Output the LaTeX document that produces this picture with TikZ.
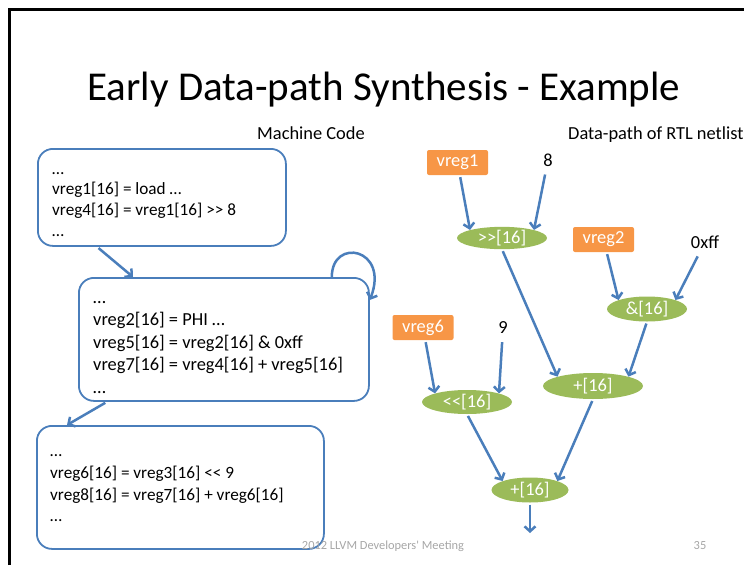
\documentclass[tikz,border=0pt]{standalone}
\usepackage{fontspec}
\setmainfont{Carlito}[Ligatures=TeXOff]
\usetikzlibrary{arrows.meta, positioning, shapes.geometric}
\definecolor{slideblue}{HTML}{4A7EBB}
\definecolor{slideorange}{HTML}{F79646}
\definecolor{slidegreen}{HTML}{9BBB59}
\newcommand{\bodyfont}{\fontsize{18.4}{21.5}\selectfont}
\tikzset{
  flow/.style={draw=slideblue, line width=2.5pt, shorten <=2pt,
    -{Straight Barb[length=5pt,width=11pt]}}, % blue arrows
  code/.style={draw=slideblue, line width=1.8pt, rounded corners=15pt,
    anchor=north west, inner sep=0pt}, % machine code blocks
  codetext/.style={anchor=west, align=left, inner sep=0pt}, % lines in a block
  vreg/.style={fill=slideorange, text=white, rounded corners=2pt,
    minimum width=61pt, minimum height=25pt, inner sep=0pt,
    font=\bodyfont}, % register inputs
  op/.style={ellipse, fill=slidegreen, text=white, inner sep=0pt,
    font=\bodyfont}, % operators of the netlist
  const/.style={inner sep=6pt, font=\bodyfont}, % constant inputs
}

\begin{document}
\begin{tikzpicture}[x=1pt, y=-1pt]
    \useasboundingbox (0,0) rectangle (744,565);
    \draw[line width=3pt] (9.5,565) -- (9.5,9.5) -- (744,9.5);

    \node[anchor=base, font=\fontsize{41}{46}\selectfont] (title) at (384,100)
    {Early Data-path Synthesis - Example};
    \node[anchor=base, font=\bodyfont] (code_head) at (311,139) {Machine Code};
    \node[anchor=base west, inner sep=0pt, font=\bodyfont] (path_head) at (568,139)
    {Data-path of RTL netlist};

    % machine code
    \node[code, minimum width=248pt, minimum height=97pt] (code_1) at (37,148) {};
    \node[code, minimum width=290pt, minimum height=123pt] (code_2) at (78,277) {};
    \node[code, minimum width=287pt, minimum height=123pt] (code_3) at (36,425) {};
    \node[codetext, font=\fontsize{17.2}{20.7}\selectfont] (lines_1)
    at ([xshift=15pt, yshift=-7pt]code_1.west)
    {…\\vreg1[16] = load …\\vreg4[16] = vreg1[16] >> 8\\…};
    \node[codetext, font=\fontsize{18.4}{22.5}\selectfont] (lines_2)
    at ([xshift=15pt, yshift=-8pt]code_2.west)
    {…\\vreg2[16] = PHI …\\vreg5[16] = vreg2[16] \& 0xff\\vreg7[16] =
    vreg4[16] + vreg5[16]\\…};
    \node[codetext, font=\fontsize{17.2}{21.7}\selectfont] (lines_3)
    at ([xshift=14pt, yshift=-1pt]code_3.west)
    {…\\vreg6[16] = vreg3[16] << 9\\vreg8[16] = vreg7[16] + vreg6[16]\\…};

    \draw[flow] ([xshift=60pt]code_1.south west) -- ([xshift=55pt]code_2.north west);
    \draw[flow] ([xshift=29pt]code_2.south west) -- ([xshift=31pt]code_3.north west);
    \draw[flow, shorten <=0pt] ([xshift=-38pt]code_2.north east)
    .. controls +(0,-40) and +(20,-52) .. ([yshift=-23pt]code_2.north east);

    % data-path
    \node[vreg] (vreg_1) at (457.5,162.5) {vreg1};
    \node[const] (const_8) at (548,160) {8};
    \node[op, minimum width=90pt, minimum height=22pt] (shr_16) at (502,238) {>>[16]};
    \node[vreg] (vreg_2) at (603.5,239.5) {vreg2};
    \node[const] (const_ff) at (705,242) {0xff};
    \node[op, minimum width=80pt, minimum height=25pt] (and_16) at (647,309) {\&[16]};
    \node[vreg] (vreg_6) at (423,327.5) {vreg6};
    \node[const] (const_9) at (503,328) {9};
    \node[op, minimum width=90pt, minimum height=24pt] (shl_16) at (467,402) {<<[16]};
    \node[op, minimum width=100pt, minimum height=26pt] (add_mid) at (593,386) {+[16]};
    \node[op, minimum width=77pt, minimum height=25pt] (add_out) at (530,490) {+[16]};
    \coordinate (result) at (530,533);

    \path
    (vreg_1) edge[flow] (shr_16.north west)
    (const_8) edge[flow] (shr_16.north east)
    (vreg_2) edge[flow] (and_16.north west)
    (const_ff) edge[flow] (and_16.north east)
    (vreg_6) edge[flow] (shl_16.north west)
    (const_9) edge[flow] (shl_16.north east)
    (shr_16.south) edge[flow] (add_mid.north west)
    (and_16.south) edge[flow] (add_mid.north east)
    (shl_16.south) edge[flow] (add_out.north west)
    (add_mid.south) edge[flow] (add_out.north east)
    (add_out.south) edge[flow] (result)
    ;

    \node[text=gray!70, font=\fontsize{12.4}{14}\selectfont] (meeting) at (383,546)
    {2012 LLVM Developers' Meeting};
    \node[text=gray!70, font=\fontsize{12.4}{14}\selectfont] (page_no) at (700,546) {35};
  \end{tikzpicture}
\end{document}
